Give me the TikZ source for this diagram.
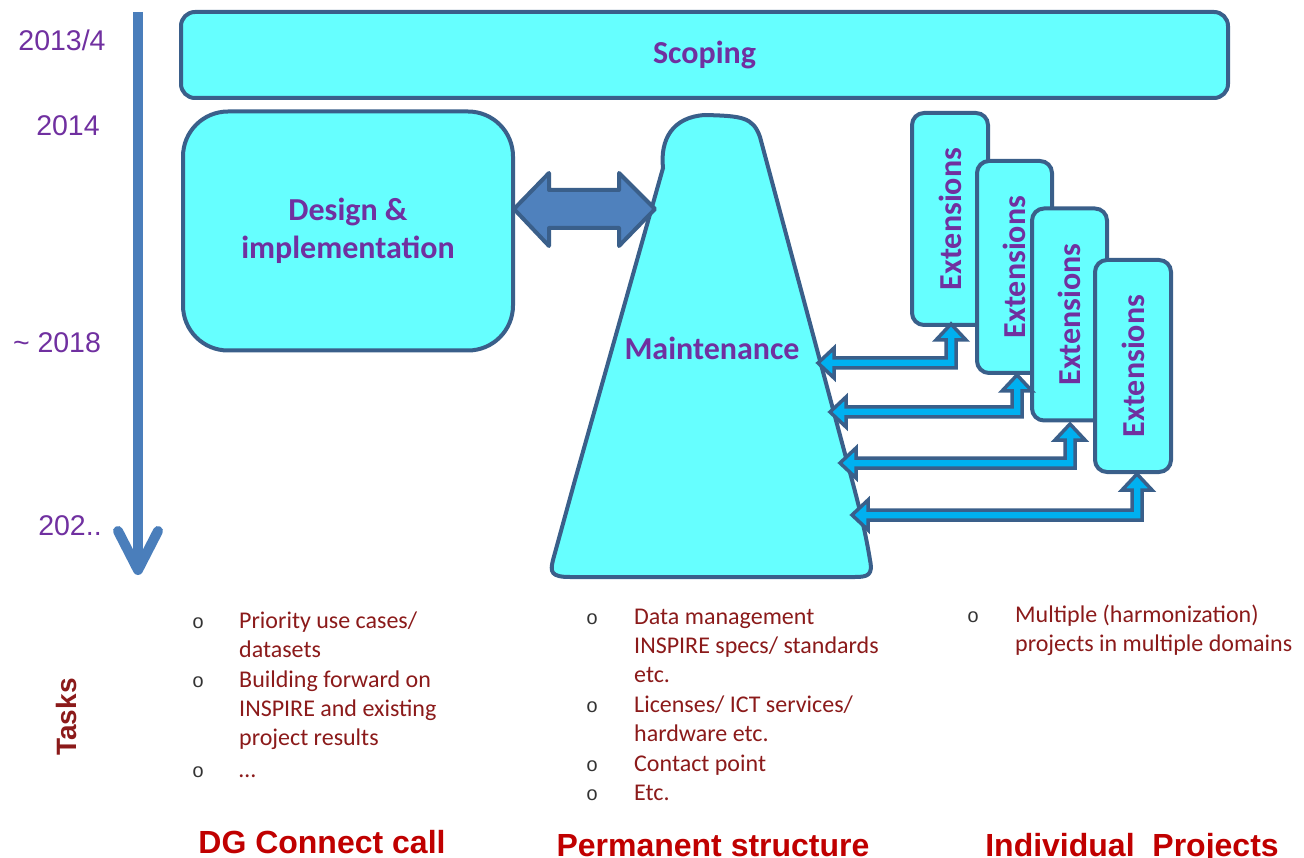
\documentclass[tikz,border=0pt]{standalone}
\usepackage{fontspec}
\setmainfont{Carlito}
\newfontfamily\arialf{Liberation Sans}
\newfontfamily\courf{Liberation Mono}
\definecolor{cyanfill}{HTML}{66FFFF}
\definecolor{edgeblue}{HTML}{3A5F8A}
\definecolor{tlblue}{HTML}{4A7EBB}
\definecolor{dblue}{HTML}{4F81BD}
\definecolor{purp}{HTML}{7030A0}
\definecolor{bodyred}{HTML}{8B1A1A}
\definecolor{titlered}{HTML}{C00000}
\definecolor{lightblue}{HTML}{00B0F0}
\tikzset{
  shapebox/.style={draw=edgeblue, fill=cyanfill, line width=4pt},
  boxlbl/.style={font=\bfseries\fontsize{32}{38}\selectfont, text=purp},
  yearlbl/.style={font=\arialf\fontsize{28.5}{32}\selectfont, text=purp},
  itemtxt/.style={font=\fontsize{24}{29}\selectfont, text=bodyred, anchor=base west, inner sep=0pt},
  bul/.style={font=\courf\fontsize{20}{29}\selectfont, text=black!80, anchor=base, inner sep=0pt},
  coltitle/.style={font=\arialf\bfseries\fontsize{32}{36}\selectfont, text=titlered, anchor=base, inner sep=0pt},
  extarr/.style={fill=lightblue, draw=edgeblue, line width=3.5pt, line join=miter},
  bigarr/.style={fill=dblue, draw=edgeblue, line width=4pt, line join=round},
}
\newcommand\extarrow[4]{%
  \draw[extarr] (#1,#2) -- (#1+15,#2+16) -- (#1+5,#2+16) -- (#1+5,#3+5) -- (#4+16,#3+5)
    -- (#4+16,#3+15) -- (#4,#3) -- (#4+16,#3-15) -- (#4+16,#3-5) -- (#1-5,#3-5)
    -- (#1-5,#2+16) -- (#1-15,#2+16) -- cycle;}
\begin{document}
\begin{tikzpicture}[x=1pt,y=-1pt]
\useasboundingbox (0,0) rectangle (1304,858);
% timeline
\coordinate (tltop) at (138,12);
\coordinate (tlbot) at (138,570);
\draw[tlblue, line width=10pt] (tltop) -- ([yshift=4pt]tlbot);
\draw[tlblue, line width=10pt, line cap=round, line join=round] (118,531) -- (tlbot) -- (158,531);
\node[yearlbl] (y1) at (62,40) {2013/4};
\node[yearlbl] (y2) at (68,126) {2014};
\node[yearlbl] (y3) at (57,343) {\char`\~\ 2018};
\node[yearlbl] (y4) at (70,526) {202..};
% scoping
\node[shapebox, rounded corners=14pt, minimum width=1047pt, minimum height=86pt, boxlbl] (scope) at (704.5,55) {Scoping};
% design
\node[shapebox, rounded corners=45pt, minimum width=330pt, minimum height=239pt, boxlbl, align=center] (design) at (348,231) {Design \&\\implementation};
% maintenance shape
\draw[shapebox] (575,480) -- (663,168) .. controls (660,140) and (672,117) .. (705,115)
  .. controls (742,116) and (753,117) .. (760,137) -- (852,480)
  .. controls (860,510) and (866,535) .. (870,560)
  .. controls (873,575) and (868,577) .. (855,577) -- (570,577)
  .. controls (551,577) and (550,572) .. (553,560) -- cycle;
\node[boxlbl] (maint) at (712,348) {Maintenance};
% double arrow
\draw[bigarr] (514,209) -- (549,173) -- (549,190) -- (619,190) -- (619,173) -- (655,209)
  -- (619,246) -- (619,228) -- (549,228) -- (549,246) -- cycle;
% extensions
\node[shapebox, rounded corners=12pt, rotate=90, minimum width=212pt, minimum height=76pt, boxlbl] (ext1) at (950,219) {Extensions};
\node[shapebox, rounded corners=12pt, rotate=90, minimum width=212pt, minimum height=75pt, boxlbl] (ext2) at (1014.5,267) {Extensions};
\node[shapebox, rounded corners=12pt, rotate=90, minimum width=212pt, minimum height=75pt, boxlbl] (ext3) at (1069.5,314.5) {Extensions};
\node[shapebox, rounded corners=12pt, rotate=90, minimum width=212pt, minimum height=76pt, boxlbl] (ext4) at (1133,366) {Extensions};
\extarrow{951}{324}{363}{818}
\extarrow{1017}{375}{412}{830}
\extarrow{1070}{424}{463}{840}
\extarrow{1137}{474}{515}{852}
% tasks
\node[rotate=90, font=\arialf\bfseries\fontsize{28}{32}\selectfont, text=bodyred] (tasks) at (66,717) {Tasks};
% column 1
\node[itemtxt] (a1) at (239,628) {Priority use cases/};
\node[itemtxt] (a2) at (239,657) {datasets};
\node[itemtxt] (a3) at (239,687) {Building forward on};
\node[itemtxt] (a4) at (239,716) {INSPIRE and existing};
\node[itemtxt] (a5) at (239,745) {project results};
\node[itemtxt] (a6) at (239,777) {…};
\node[bul] (ba1) at (198,628) {o};
\node[bul] (ba3) at (198,687) {o};
\node[bul] (ba6) at (198,777) {o};
% column 2
\node[itemtxt] (b1) at (634,624) {Data management};
\node[itemtxt] (b2) at (634,653) {INSPIRE specs/ standards};
\node[itemtxt] (b3) at (634,682) {etc.};
\node[itemtxt] (b4) at (634,712) {Licenses/ ICT services/};
\node[itemtxt] (b5) at (634,741) {hardware etc.};
\node[itemtxt] (b6) at (634,771) {Contact point};
\node[itemtxt] (b7) at (634,800) {Etc.};
\node[bul] (bb1) at (592,624) {o};
\node[bul] (bb4) at (592,712) {o};
\node[bul] (bb6) at (592,771) {o};
\node[bul] (bb7) at (592,800) {o};
% column 3
\node[itemtxt] (c1) at (1015,622) {Multiple (harmonization)};
\node[itemtxt] (c2) at (1015,651) {projects in multiple domains};
\node[bul] (bc1) at (973,622) {o};
% titles
\node[coltitle] (t1) at (322,853) {DG Connect call};
\node[coltitle] (t2) at (713,856) {Permanent structure};
\node[coltitle] (t3) at (1132,856) {Individual~~Projects};
\end{tikzpicture}
\end{document}
